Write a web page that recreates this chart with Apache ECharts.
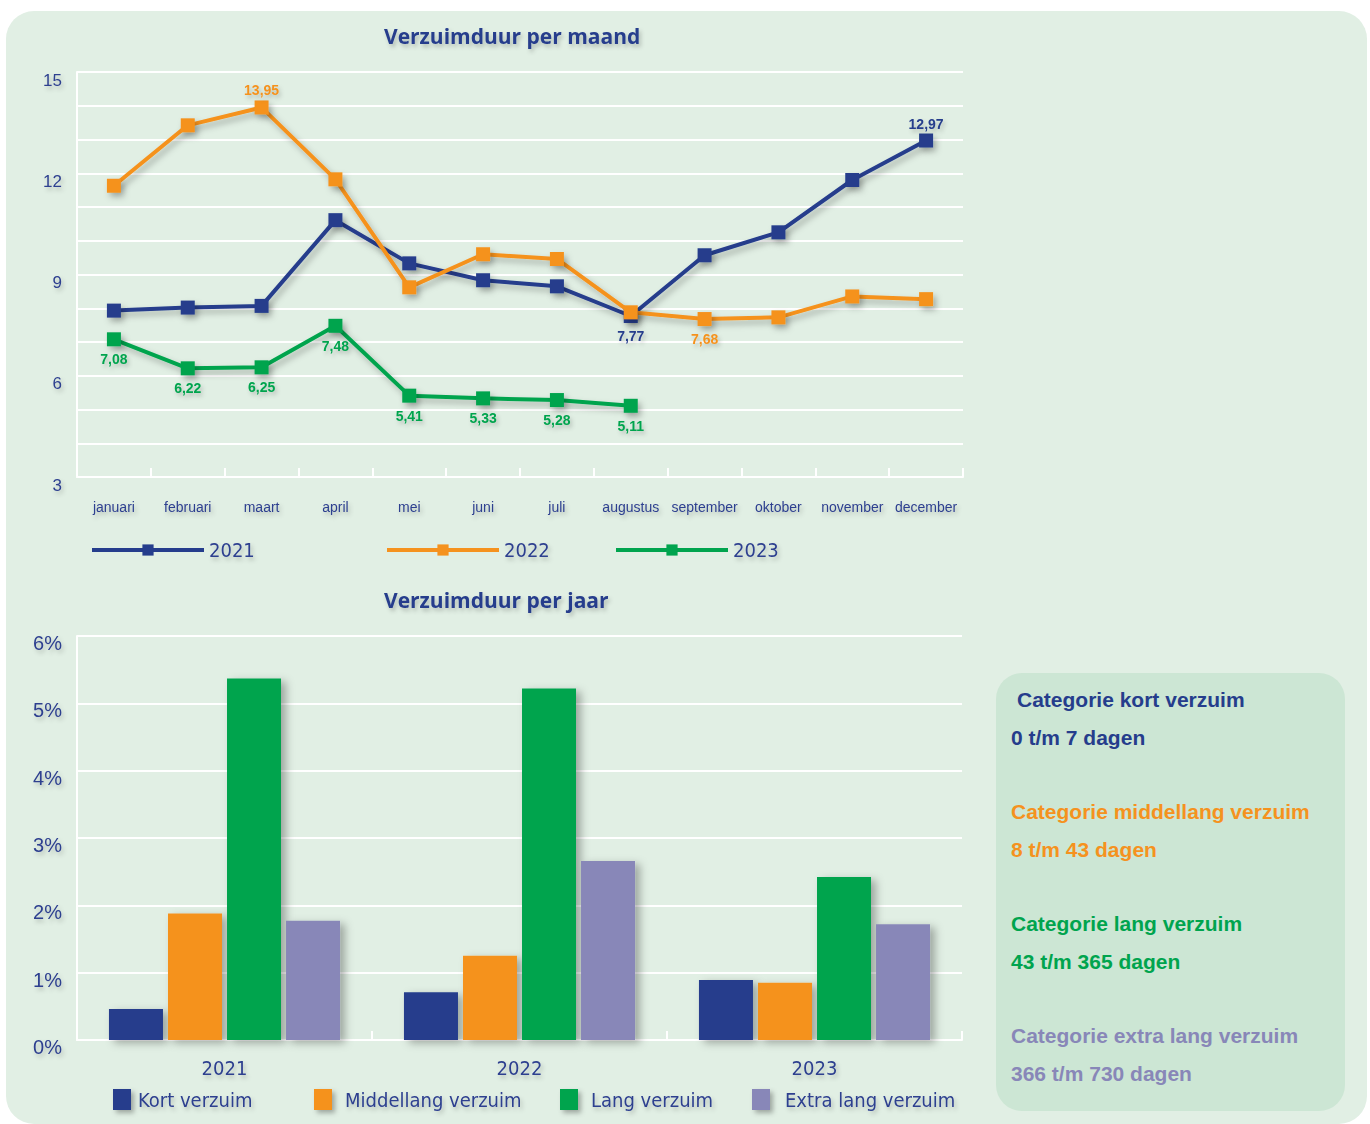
<!DOCTYPE html>
<html>
<head>
<meta charset="utf-8">
<script src="https://cdn.jsdelivr.net/npm/echarts@6/dist/echarts.min.js"></script>
<style>
  html, body { margin: 0; padding: 0; background: #ffffff; }
  #chart { width: 1370px; height: 1124px; }
</style>
</head>
<body>
<div id="chart"></div>
<script>
// ---------- DATA ----------
const months = ['januari','februari','maart','april','mei','juni','juli','augustus','september','oktober','november','december'];
const lineYears = ['2021','2022','2023'];
const dur2021 = [7.93, 8.02, 8.07, 10.61, 9.33, 8.83, 8.65, 7.77, 9.57, 10.25, 11.80, 12.97];
const dur2022 = [11.63, 13.42, 13.95, 11.82, 8.62, 9.60, 9.46, 7.88, 7.68, 7.73, 8.35, 8.27];
const dur2023 = [7.08, 6.22, 6.25, 7.48, 5.41, 5.33, 5.28, 5.11];

const barYears = ['2021','2022','2023'];
const categories = ['Kort verzuim','Middellang verzuim','Lang verzuim','Extra lang verzuim'];
const kort = [0.46, 0.71, 0.89];
const middellang = [1.88, 1.25, 0.85];
const lang = [5.37, 5.22, 2.42];
const extraLang = [1.77, 2.66, 1.72];

const boxTitles = ['Categorie kort verzuim','Categorie middellang verzuim','Categorie lang verzuim','Categorie extra lang verzuim'];
const boxRanges = ['0 t/m 7 dagen','8 t/m 43 dagen','43 t/m 365 dagen','366 t/m 730 dagen'];

// ---------- STYLE ----------
const NAVY = '#253d8c', ORANGE = '#f5921e', GREEN = '#00a44e', PURPLE = '#8887b8';
const TXT = '#2d3f8f';
const NARROW = "'Liberation Sans Narrow','DejaVu Sans Condensed','Liberation Sans',sans-serif";
const SANS = "'Liberation Sans',Arial,sans-serif";
const shadowTxt = { textShadowColor: 'rgba(0,0,0,0.22)', textShadowBlur: 4, textShadowOffsetX: 2, textShadowOffsetY: 3 };

// which points get a value label, and where
const labelCfg = {
  '2021': { 7: 'bottom', 11: 'top' },
  '2022': { 2: 'top', 8: 'bottom' },
  '2023': { 0: 'bottom', 1: 'bottom', 2: 'bottom', 3: 'bottom', 4: 'bottom', 5: 'bottom', 6: 'bottom', 7: 'bottom' }
};
const fmt = v => v.toFixed(2).replace('.', ',');

function lineData(year, arr, color) {
  return arr.map((v, i) => {
    const pos = labelCfg[year][i];
    return pos ? { value: v, label: { show: true, position: pos, distance: pos === 'top' ? 3 : 6, color: color, fontWeight: 'bold', fontSize: 14, fontFamily: SANS, formatter: p => fmt(p.value), ...shadowTxt } } : v;
  });
}

function lineSeries(name, arr, color) {
  return {
    name: name, type: 'line', xAxisIndex: 0, yAxisIndex: 0,
    data: lineData(name, arr, color),
    symbol: 'rect', symbolSize: 14,
    itemStyle: { color: color, shadowColor: 'rgba(0,0,0,0.28)', shadowBlur: 6, shadowOffsetX: 3, shadowOffsetY: 4 },
    lineStyle: { color: color, width: 4, shadowColor: 'rgba(0,0,0,0.28)', shadowBlur: 6, shadowOffsetX: 3, shadowOffsetY: 4 },
    emphasis: { disabled: true },
    z: 3
  };
}

function barSeries(name, arr, color) {
  return {
    name: name, type: 'bar', xAxisIndex: 1, yAxisIndex: 1,
    data: arr, barWidth: 54, barGap: '9.3%',
    itemStyle: { color: color, shadowColor: 'rgba(0,0,0,0.3)', shadowBlur: 8, shadowOffsetX: 5, shadowOffsetY: 3 },
    emphasis: { disabled: true }
  };
}

const gridLine = { show: true, lineStyle: { color: '#ffffff', width: 2 } };
const whiteAxis = { show: true, lineStyle: { color: '#ffffff', width: 2 } };

function lineLegend(name, left, color) {
  return {
    data: [name], left: left, top: 535, orient: 'horizontal',
    itemWidth: 112, itemHeight: 14, selectedMode: false,
    lineStyle: { width: 4, color: color },
    textStyle: { color: TXT, fontSize: 20, fontFamily: NARROW, ...shadowTxt }
  };
}
function barLegend(name, left, pad) {
  return {
    data: [{ name: name, icon: 'rect' }], left: left, top: 1084, orient: 'horizontal',
    itemWidth: 18, itemHeight: 21, selectedMode: false,
    itemStyle: { shadowColor: 'rgba(0,0,0,0.3)', shadowBlur: 5, shadowOffsetX: 3, shadowOffsetY: 3 },
    textStyle: { color: TXT, fontSize: 20, fontFamily: NARROW, padding: [0, 0, 0, pad], ...shadowTxt }
  };
}

const boxColors = [NAVY, ORANGE, GREEN, PURPLE];
const boxGraphics = [];
boxTitles.forEach((t, i) => {
  boxGraphics.push({ type: 'text', left: i === 0 ? 1017 : 1011, top: 689 + i * 112, style: { text: t, fill: boxColors[i], font: 'bold 21px ' + SANS } });
  boxGraphics.push({ type: 'text', left: 1011, top: 727 + i * 112, style: { text: boxRanges[i], fill: boxColors[i], font: 'bold 21px ' + SANS } });
});

const option = {
  animation: false,
  backgroundColor: '#ffffff',
  graphic: [
    { type: 'rect', z: -10, shape: { x: 6, y: 11, width: 1361, height: 1113, r: 28 }, style: { fill: '#e1efe4' } },
    { type: 'rect', z: -9, shape: { x: 996, y: 673, width: 349, height: 438, r: 26 }, style: { fill: '#cce6d4' } },
    ...boxGraphics
  ],
  title: [
    { text: 'Verzuimduur per maand', left: 379, top: 20, textStyle: { color: NAVY, fontSize: 21, fontWeight: 'bold', fontFamily: "'Open Sans',sans-serif", ...shadowTxt } },
    { text: 'Verzuimduur per jaar', left: 379, top: 584, textStyle: { color: NAVY, fontSize: 21, fontWeight: 'bold', fontFamily: "'Open Sans',sans-serif", ...shadowTxt } }
  ],
  legend: [
    lineLegend('2021', 85, NAVY), lineLegend('2022', 380, ORANGE), lineLegend('2023', 609, GREEN),
    barLegend('Kort verzuim', 108, 2), barLegend('Middellang verzuim', 309, 8),
    barLegend('Lang verzuim', 555, 8), barLegend('Extra lang verzuim', 747, 10)
  ],
  grid: [
    { left: 77, top: 72, width: 886, height: 405 },
    { left: 77, top: 636, width: 885, height: 404 }
  ],
  xAxis: [
    {
      type: 'category', gridIndex: 0, data: months, boundaryGap: true,
      axisLine: whiteAxis,
      axisTick: { show: true, inside: true, length: 9, alignWithLabel: false, lineStyle: { color: '#ffffff', width: 2 } },
      axisLabel: { color: TXT, fontSize: 14, fontFamily: SANS, margin: 23, interval: 0, ...shadowTxt },
      splitLine: { show: false }
    },
    {
      type: 'category', gridIndex: 1, data: barYears, boundaryGap: true,
      axisLine: whiteAxis,
      axisTick: { show: true, inside: true, length: 9, alignWithLabel: false, lineStyle: { color: '#ffffff', width: 2 } },
      axisLabel: { color: TXT, fontSize: 20, fontFamily: NARROW, margin: 18, ...shadowTxt },
      splitLine: { show: false }
    }
  ],
  yAxis: [
    {
      type: 'value', gridIndex: 0, min: 3, max: 15, interval: 1,
      axisLine: whiteAxis, axisTick: { show: false },
      axisLabel: { color: TXT, fontSize: 17, fontFamily: SANS, margin: 15, verticalAlign: 'top', lineHeight: 16, formatter: v => (v % 3 === 0 ? String(v) : ''), ...shadowTxt },
      splitLine: gridLine
    },
    {
      type: 'value', gridIndex: 1, min: 0, max: 6, interval: 1,
      axisLine: whiteAxis, axisTick: { show: false },
      axisLabel: { color: TXT, fontSize: 20, fontFamily: SANS, margin: 15, verticalAlign: 'top', lineHeight: 14, formatter: '{value}%', ...shadowTxt },
      splitLine: gridLine
    }
  ],
  series: [
    lineSeries('2021', dur2021, NAVY),
    lineSeries('2022', dur2022, ORANGE),
    lineSeries('2023', dur2023, GREEN),
    barSeries(categories[0], kort, NAVY),
    barSeries(categories[1], middellang, ORANGE),
    barSeries(categories[2], lang, GREEN),
    barSeries(categories[3], extraLang, PURPLE)
  ]
};

const chart = echarts.init(document.getElementById('chart'), null, { renderer: 'svg' });
chart.setOption(option);
</script>
</body>
</html>
